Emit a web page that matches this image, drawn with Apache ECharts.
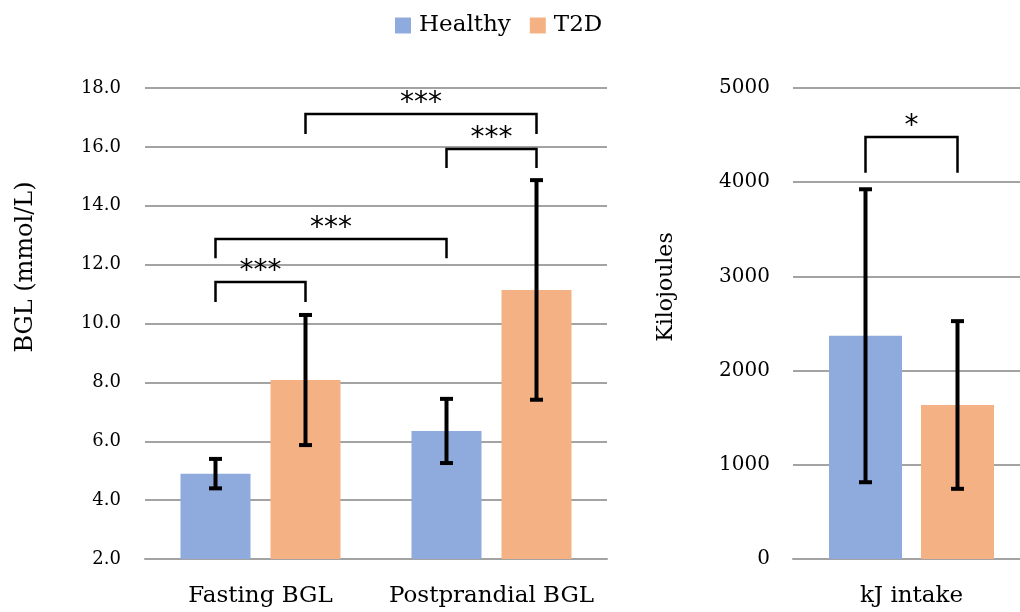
<!DOCTYPE html>
<html>
<head>
<meta charset="utf-8">
<title>Blood glucose and energy intake</title>
<script src="https://cdn.jsdelivr.net/npm/echarts@6/dist/echarts.min.js"></script>
<style>
  html, body { margin: 0; padding: 0; background: #fff; }
  #chart { width: 1020px; height: 612px; }
</style>
</head>
<body>
<div id="chart"></div>
<script>
// ---- data ----
const groups = ['Healthy', 'T2D'];

const bglCategories = ['Fasting BGL', 'Postprandial BGL'];
const bglHealthy = [4.9, 6.35];
const bglHealthyErr = [0.5, 1.09];
const bglT2D = [8.08, 11.14];
const bglT2DErr = [2.21, 3.73];

const kjCategories = ['kJ intake'];
const kjHealthy = [2370];
const kjHealthyErr = [1555];
const kjT2D = [1635];
const kjT2DErr = [890];

const bglTicks = { min: 2, max: 18, step: 2 };
const kjTicks = { min: 0, max: 5000, step: 1000 };

// significance brackets: [category A, group A, category B, group B, bar level, foot level]
const bglBrackets = [
  [0, 0, 0, 1, 11.41, 10.73],
  [0, 0, 1, 0, 12.87, 12.22],
  [1, 0, 1, 1, 15.93, 15.28],
  [0, 1, 1, 1, 17.12, 16.44]
];
const bglBracketLabels = ['***', '***', '***', '***'];
const kjBrackets = [
  [0, 0, 0, 1, 4480, 4100]
];
const kjBracketLabels = ['*'];

// ---- style ----
const SERIF = 'DejaVu Serif';
const BLUE = '#8faadc';
const ORANGE = '#f4b183';
const GRID_GREY = '#a3a3a3';

const leftBar = { width: 70, gap: 20 };
const rightBar = { width: 73, gap: 19 };

function barOffset(cfg, grp) {
  const d = (cfg.width + cfg.gap) / 2;
  return grp === 0 ? -d : d;
}

function errorData(vals, errs, grp) {
  return vals.map((v, i) => [i, grp, v, errs[i]]);
}

function errorRenderer(cfg) {
  return function (params, api) {
    const cat = api.value(0), grp = api.value(1), v = api.value(2), e = api.value(3);
    const x = api.coord([cat, v])[0] + barOffset(cfg, grp);
    const yTop = api.coord([cat, v + e])[1];
    const yBot = api.coord([cat, v - e])[1];
    const cap = 6.5;
    const st = { stroke: '#000', lineWidth: 4 };
    return {
      type: 'group',
      children: [
        { type: 'line', shape: { x1: x, y1: yTop, x2: x, y2: yBot }, style: st },
        { type: 'line', shape: { x1: x - cap, y1: yTop, x2: x + cap, y2: yTop }, style: st },
        { type: 'line', shape: { x1: x - cap, y1: yBot, x2: x + cap, y2: yBot }, style: st }
      ]
    };
  };
}

function bracketRenderer(cfg, labels) {
  return function (params, api) {
    const ca = api.value(0), ga = api.value(1), cb = api.value(2), gb = api.value(3);
    const top = api.value(4), foot = api.value(5);
    const xa = api.coord([ca, top])[0] + barOffset(cfg, ga);
    const xb = api.coord([cb, top])[0] + barOffset(cfg, gb);
    const yt = api.coord([ca, top])[1];
    const yf = api.coord([ca, foot])[1];
    return {
      type: 'group',
      children: [
        {
          type: 'polyline',
          shape: { points: [[xa, yf], [xa, yt], [xb, yt], [xb, yf]] },
          style: { stroke: '#000', lineWidth: 2.5, fill: null }
        },
        {
          type: 'text',
          x: (xa + xb) / 2,
          y: yt + 4,
          style: {
            text: labels[params.dataIndex],
            fontFamily: 'DejaVu Sans',
            fontSize: 28,
            fill: '#000',
            textAlign: 'center',
            textVerticalAlign: 'bottom'
          }
        }
      ]
    };
  };
}

const valueAxisBase = {
  type: 'value',
  axisLine: { show: false },
  axisTick: { show: false },
  splitLine: { lineStyle: { color: GRID_GREY, width: 2 } }
};

const catAxisBase = {
  type: 'category',
  axisLine: { lineStyle: { color: GRID_GREY, width: 2 } },
  axisTick: { show: false },
  axisLabel: { color: '#000', fontFamily: SERIF, fontSize: 23, margin: 26, interval: 0 }
};

const chart = echarts.init(document.getElementById('chart'), null, { renderer: 'canvas' });

chart.setOption({
  animation: false,
  backgroundColor: '#fff',
  legend: {
    data: groups,
    left: 390,
    top: 9,
    icon: 'rect',
    itemWidth: 16,
    itemHeight: 16,
    itemGap: 19,
    textStyle: { color: '#000', fontFamily: SERIF, fontSize: 23, padding: [0, 0, 0, 3] }
  },
  grid: [
    { left: 145, top: 88, width: 462, height: 471, outerBoundsMode: 'none' },
    { left: 793, top: 88, width: 237, height: 471, outerBoundsMode: 'none' }
  ],
  xAxis: [
    Object.assign({}, catAxisBase, { gridIndex: 0, data: bglCategories }),
    Object.assign({}, catAxisBase, { gridIndex: 1, data: kjCategories })
  ],
  yAxis: [
    Object.assign({}, valueAxisBase, {
      gridIndex: 0, min: bglTicks.min, max: bglTicks.max, interval: bglTicks.step,
      axisLabel: {
        color: '#000', fontFamily: SERIF, fontSize: 18, margin: 24,
        formatter: v => v.toFixed(1)
      }
    }),
    Object.assign({}, valueAxisBase, {
      gridIndex: 1, min: kjTicks.min, max: kjTicks.max, interval: kjTicks.step,
      axisLabel: {
        color: '#000', fontFamily: SERIF, fontSize: 20, margin: 23,
        formatter: v => String(v)
      }
    })
  ],
  graphic: [
    {
      type: 'text', x: 26, y: 267, rotation: Math.PI / 2,
      style: {
        text: 'BGL (mmol/L)', fontFamily: SERIF, fontSize: 24, fill: '#000',
        textAlign: 'center', textVerticalAlign: 'middle'
      }
    },
    {
      type: 'text', x: 666, y: 287, rotation: Math.PI / 2,
      style: {
        text: 'Kilojoules', fontFamily: SERIF, fontSize: 22, fill: '#000',
        textAlign: 'center', textVerticalAlign: 'middle'
      }
    }
  ],
  series: [
    {
      name: groups[0], type: 'bar', xAxisIndex: 0, yAxisIndex: 0,
      data: bglHealthy, barWidth: leftBar.width,
      barGap: (leftBar.gap / leftBar.width * 100) + '%',
      itemStyle: { color: BLUE }
    },
    {
      name: groups[1], type: 'bar', xAxisIndex: 0, yAxisIndex: 0,
      data: bglT2D, barWidth: leftBar.width,
      barGap: (leftBar.gap / leftBar.width * 100) + '%',
      itemStyle: { color: ORANGE }
    },
    {
      name: groups[0], type: 'bar', xAxisIndex: 1, yAxisIndex: 1,
      data: kjHealthy, barWidth: rightBar.width,
      barGap: (rightBar.gap / rightBar.width * 100) + '%',
      itemStyle: { color: BLUE }
    },
    {
      name: groups[1], type: 'bar', xAxisIndex: 1, yAxisIndex: 1,
      data: kjT2D, barWidth: rightBar.width,
      barGap: (rightBar.gap / rightBar.width * 100) + '%',
      itemStyle: { color: ORANGE }
    },
    {
      type: 'custom', xAxisIndex: 0, yAxisIndex: 0, z: 5,
      renderItem: errorRenderer(leftBar),
      encode: { x: 0, y: 2 },
      data: errorData(bglHealthy, bglHealthyErr, 0).concat(errorData(bglT2D, bglT2DErr, 1))
    },
    {
      type: 'custom', xAxisIndex: 1, yAxisIndex: 1, z: 5,
      renderItem: errorRenderer(rightBar),
      encode: { x: 0, y: 2 },
      data: errorData(kjHealthy, kjHealthyErr, 0).concat(errorData(kjT2D, kjT2DErr, 1))
    },
    {
      type: 'custom', xAxisIndex: 0, yAxisIndex: 0, z: 6, clip: false,
      renderItem: bracketRenderer(leftBar, bglBracketLabels),
      encode: { x: 0, y: 4 },
      data: bglBrackets
    },
    {
      type: 'custom', xAxisIndex: 1, yAxisIndex: 1, z: 6, clip: false,
      renderItem: bracketRenderer(rightBar, kjBracketLabels),
      encode: { x: 0, y: 4 },
      data: kjBrackets
    }
  ]
});
</script>
</body>
</html>
